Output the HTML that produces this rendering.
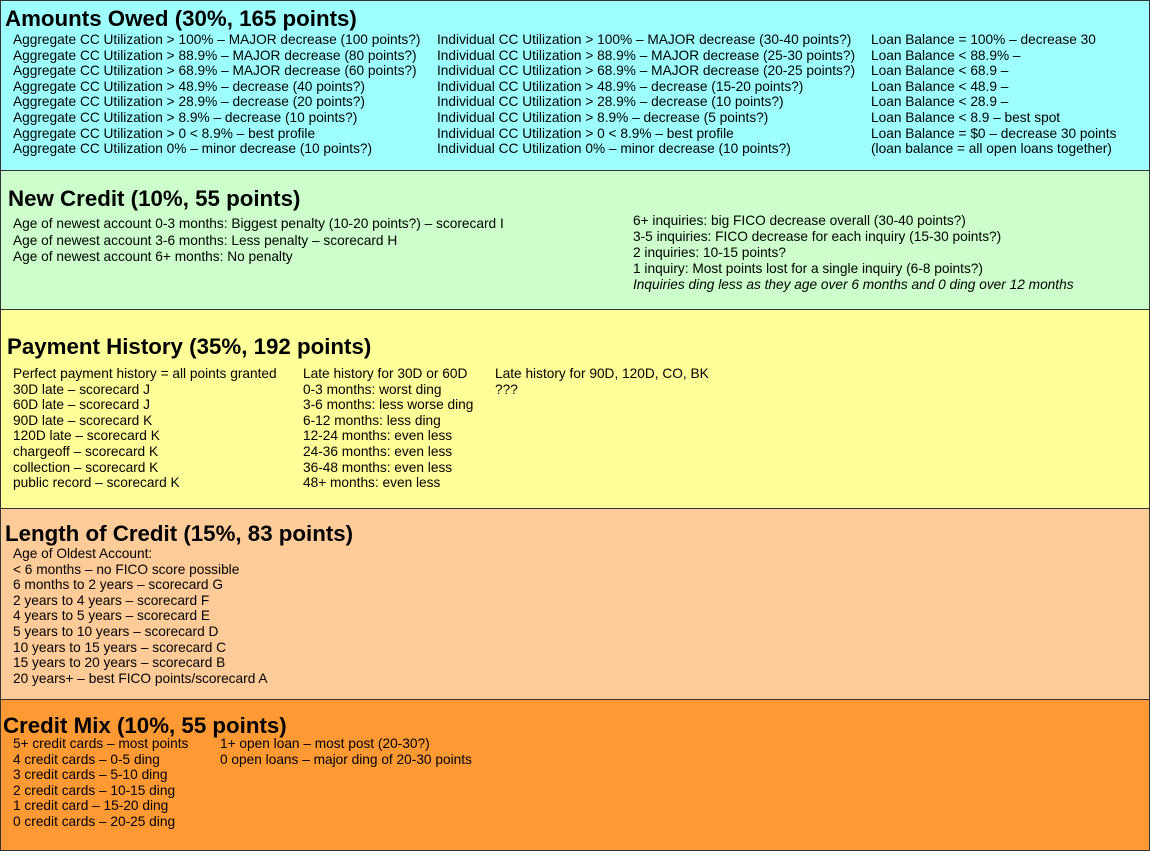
<!DOCTYPE html>
<html><head><meta charset="utf-8"><style>
html,body{margin:0;padding:0;}
body{width:1150px;height:851px;position:relative;overflow:hidden;font-family:"Liberation Sans",Arial,sans-serif;color:#000;}
.sec{position:absolute;left:0;width:1148px;border:1px solid #333;}
.t{position:absolute;font-weight:bold;font-size:22.3px;white-space:nowrap;line-height:24px;}
.c{position:absolute;font-size:13.7px;white-space:nowrap;}
.c div{height:15.6px;line-height:15.6px;}
</style></head><body>
<div class="sec" style="top:0;height:169px;background:#9effff;"></div>
<div class="sec" style="top:170px;height:138px;background:#ccffcc;"></div>
<div class="sec" style="top:309px;height:198px;background:#ffff99;"></div>
<div class="sec" style="top:508px;height:190px;background:#ffcc99;"></div>
<div class="sec" style="top:699px;height:150px;background:#ff9933;"></div>

<div class="t" style="left:5px;top:7px;">Amounts Owed (30%, 165 points)</div>
<div class="c" style="left:13px;top:32px;">
<div>Aggregate CC Utilization &gt; 100% – MAJOR decrease (100 points?)</div>
<div>Aggregate CC Utilization &gt; 88.9% – MAJOR decrease (80 points?)</div>
<div>Aggregate CC Utilization &gt; 68.9% – MAJOR decrease (60 points?)</div>
<div>Aggregate CC Utilization &gt; 48.9% – decrease (40 points?)</div>
<div>Aggregate CC Utilization &gt; 28.9% – decrease (20 points?)</div>
<div>Aggregate CC Utilization &gt; 8.9% – decrease (10 points?)</div>
<div>Aggregate CC Utilization &gt; 0 &lt; 8.9% – best profile</div>
<div>Aggregate CC Utilization 0% – minor decrease (10 points?)</div>
</div>
<div class="c" style="left:437px;top:32px;">
<div>Individual CC Utilization &gt; 100% – MAJOR decrease (30-40 points?)</div>
<div>Individual CC Utilization &gt; 88.9% – MAJOR decrease (25-30 points?)</div>
<div>Individual CC Utilization &gt; 68.9% – MAJOR decrease (20-25 points?)</div>
<div>Individual CC Utilization &gt; 48.9% – decrease (15-20 points?)</div>
<div>Individual CC Utilization &gt; 28.9% – decrease (10 points?)</div>
<div>Individual CC Utilization &gt; 8.9% – decrease (5 points?)</div>
<div>Individual CC Utilization &gt; 0 &lt; 8.9% – best profile</div>
<div>Individual CC Utilization 0% – minor decrease (10 points?)</div>
</div>
<div class="c" style="left:871px;top:32px;">
<div>Loan Balance = 100% – decrease 30</div>
<div>Loan Balance &lt; 88.9% –</div>
<div>Loan Balance &lt; 68.9 –</div>
<div>Loan Balance &lt; 48.9 –</div>
<div>Loan Balance &lt; 28.9 –</div>
<div>Loan Balance &lt; 8.9 – best spot</div>
<div>Loan Balance = $0 – decrease 30 points</div>
<div>(loan balance = all open loans together)</div>
</div>

<div class="t" style="left:8px;top:187px;">New Credit (10%, 55 points)</div>
<div class="c" style="left:13px;top:216px;">
<div style="height:16.5px">Age of newest account 0-3 months: Biggest penalty (10-20 points?) – scorecard I</div>
<div style="height:16.5px">Age of newest account 3-6 months: Less penalty – scorecard H</div>
<div style="height:16.5px">Age of newest account 6+ months: No penalty</div>
</div>
<div class="c" style="left:633px;top:213px;">
<div style="height:16px">6+ inquiries: big FICO decrease overall (30-40 points?)</div>
<div style="height:16px">3-5 inquiries: FICO decrease for each inquiry (15-30 points?)</div>
<div style="height:16px">2 inquiries: 10-15 points?</div>
<div style="height:16px">1 inquiry: Most points lost for a single inquiry (6-8 points?)</div>
<div style="height:16px;font-style:italic">Inquiries ding less as they age over 6 months and 0 ding over 12 months</div>
</div>

<div class="t" style="left:7px;top:335px;">Payment History (35%, 192 points)</div>
<div class="c" style="left:13px;top:366px;">
<div>Perfect payment history = all points granted</div>
<div>30D late – scorecard J</div>
<div>60D late – scorecard J</div>
<div>90D late – scorecard K</div>
<div>120D late – scorecard K</div>
<div>chargeoff – scorecard K</div>
<div>collection – scorecard K</div>
<div>public record – scorecard K</div>
</div>
<div class="c" style="left:303px;top:366px;">
<div>Late history for 30D or 60D</div>
<div>0-3 months: worst ding</div>
<div>3-6 months: less worse ding</div>
<div>6-12 months: less ding</div>
<div>12-24 months: even less</div>
<div>24-36 months: even less</div>
<div>36-48 months: even less</div>
<div>48+ months: even less</div>
</div>
<div class="c" style="left:495px;top:366px;">
<div>Late history for 90D, 120D, CO, BK</div>
<div>???</div>
</div>

<div class="t" style="left:5px;top:522px;">Length of Credit (15%, 83 points)</div>
<div class="c" style="left:13px;top:546px;">
<div>Age of Oldest Account:</div>
<div>&lt; 6 months – no FICO score possible</div>
<div>6 months to 2 years – scorecard G</div>
<div>2 years to 4 years – scorecard F</div>
<div>4 years to 5 years – scorecard E</div>
<div>5 years to 10 years – scorecard D</div>
<div>10 years to 15 years – scorecard C</div>
<div>15 years to 20 years – scorecard B</div>
<div>20 years+ – best FICO points/scorecard A</div>
</div>

<div class="t" style="left:3px;top:714px;">Credit Mix (10%, 55 points)</div>
<div class="c" style="left:13px;top:736px;">
<div>5+ credit cards – most points</div>
<div>4 credit cards – 0-5 ding</div>
<div>3 credit cards – 5-10 ding</div>
<div>2 credit cards – 10-15 ding</div>
<div>1 credit card – 15-20 ding</div>
<div>0 credit cards – 20-25 ding</div>
</div>
<div class="c" style="left:220px;top:736px;">
<div>1+ open loan – most post (20-30?)</div>
<div>0 open loans – major ding of 20-30 points</div>
</div>
</body></html>
